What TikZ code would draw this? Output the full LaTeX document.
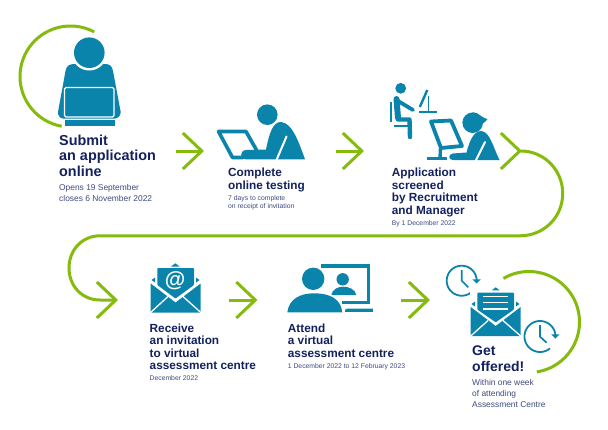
\documentclass[tikz,border=0pt]{standalone}
\usepackage{fontspec}
\setmainfont{Liberation Sans}
\usetikzlibrary{arrows.meta}
\definecolor{ublue}{HTML}{0B84AC}
\definecolor{ugreen}{HTML}{84BB0C}
\definecolor{unavy}{HTML}{14215F}
\definecolor{usub}{HTML}{3E4A80}
\tikzset{
  x=1pt,y=-1pt,
  headbig/.style={anchor=base west,inner sep=0pt,align=left,text=unavy,font=\fontsize{14.4}{15.3}\selectfont\bfseries},
  headsmall/.style={anchor=base west,inner sep=0pt,align=left,text=unavy,font=\fontsize{11.8}{12.4}\selectfont\bfseries},
  subbig/.style={anchor=base west,inner sep=0pt,align=left,text=usub,font=\fontsize{8.4}{11}\selectfont},
  subsmall/.style={anchor=base west,inner sep=0pt,align=left,text=usub,font=\fontsize{6.8}{8.7}\selectfont},
  greenline/.style={draw=ugreen,line width=3pt},
  flow/.style={greenline,-{Straight Barb[length=19pt,width=36pt,line width=3pt]}},
  bluefill/.style={fill=ublue,draw=none},
  blueline/.style={draw=ublue,fill=none},
  whiteline/.style={draw=white,fill=none},
}
\begin{document}
\begin{tikzpicture}
\useasboundingbox (0,0) rectangle (608,429);
\fill[white] (0,0) rectangle (608,429);

% green connectors
\coordinate (s1) at (176,151); \coordinate (e1) at (204,151);
\coordinate (s2) at (335.5,151); \coordinate (e2) at (364,151);
\coordinate (s3) at (520,151); \coordinate (e3) at (522,151);
\coordinate (s4) at (521,151); \coordinate (e4) at (118,300);
\coordinate (s5) at (229,300); \coordinate (e5) at (257.5,300);
\coordinate (s6) at (401,300); \coordinate (e6) at (430,300);
\draw[flow] (s1) -- (e1);
\draw[flow] (s2) -- (e2);
\draw[flow] (s3) -- (e3);
\draw[flow] (s5) -- (e5);
\draw[flow] (s6) -- (e6);
\draw[flow] (s4) .. controls (544,151) and (562.7,170) .. (562.7,193.5)
  .. controls (562.7,217) and (544,235.8) .. (520,235.8) -- (100,235.8)
  .. controls (82,235.8) and (69,250) .. (69,268)
  .. controls (69,286) and (82,300) .. (100,300) -- (e4);
\draw[greenline] plot[domain=-260:-62,samples=70] ({70.5+50.5*cos(\x)},{76.5+50.5*sin(\x)});
\draw[greenline] plot[domain=-120.4:81,samples=70] ({529+50.5*cos(\x)},{322+50.5*sin(\x)});

% step 1 icon
\fill[ublue] (58,112) -- (65.5,71) .. controls (66.5,66) and (69,64.5) .. (73,64) -- (106,64)
  .. controls (110,64.5) and (112,66) .. (113,71) -- (120.7,112)
  .. controls (121,115) and (118,118.5) .. (115,118.5) -- (63,118.5) .. controls (60,118.5) and (57.5,115) .. (58,112) -- cycle;
\fill[white] (89.3,52.7) circle[radius=17.8];
\fill[ublue] (89.3,52.7) circle[radius=15.3];
\draw[whiteline,line width=1.1pt,rounded corners=1.5pt] (64.5,87.5) rectangle (114,117);
\fill[ublue] (64.5,120) rectangle (114.5,126);

% step 2 icon
\draw[blueline,line width=3.6pt,line join=round,line cap=round] (243,157.5) -- (232.5,157.5) -- (218.5,131.5) -- (246,131.5) -- (256.5,150);
\fill[ublue] (267.3,114.7) circle[radius=10.3];
\fill[ublue] (305,159.3) .. controls (298,140) and (292,123) .. (281,122) .. controls (273,121.5) and (269,134) .. (266,149.5)
  -- (246,150) .. controls (239.5,150.5) and (239.5,159.3) .. (246,159.3) -- cycle;
\draw[whiteline,line width=2pt,line cap=round] (286.5,136.5) -- (276.5,160);

% step 3 icons
\fill[ublue] (400.7,88.3) circle[radius=5.4];
\draw[blueline,line width=6pt,line cap=round,line join=round] (396.5,99) -- (398,118);
\draw[blueline,line width=3.8pt,line cap=round,line join=round] (398,101) -- (413,110);
\draw[blueline,line width=4.4pt,line cap=round,line join=round] (398,119.5) -- (409.5,119.5) -- (410,137);
\fill[ublue] (390.3,102) rectangle (392,122);
\fill[ublue] (394,124.8) rectangle (408,126.6);
\fill[ublue] (419.3,111.4) rectangle (436.7,112.6);
\fill[ublue] (427.6,96) rectangle (429,112);
\draw[blueline,line width=2.4pt] (419.8,107) -- (427.3,90);
\draw[blueline,line width=3.8pt,line join=round] (431,121.5) -- (451,120.5) -- (462,146) -- (441,148) -- cycle;
\draw[blueline,line width=3.4pt] (440.5,148) -- (440,158.5);
\draw[blueline,line width=2.8pt] (427,158.8) -- (447,158.8);
\fill[ublue] (472.7,122.7) circle[radius=10.3];
\fill[ublue] (473,112.4) .. controls (478,112) and (483,119) .. (487.5,119) .. controls (485,123) and (481,125) .. (476,125) -- cycle;
\fill[ublue] (499.5,160) .. controls (493,147) and (490,131.5) .. (481,131) .. controls (473,131) and (469,143) .. (466.5,152.5)
  -- (453,153.5) .. controls (448,154) and (448,160) .. (453,160) -- cycle;
\draw[whiteline,line width=2pt,line cap=round] (485,142) -- (475.5,161);

% step 4 icon
\fill[ublue] (175.3,263.3) -- (179.5,266.5) -- (171,266.5) -- cycle;
\fill[ublue] (155,277.5) -- (155,282.5) -- (151.5,280) -- cycle;
\fill[ublue] (196,277.5) -- (196,282.5) -- (199.5,280) -- cycle;
\fill[ublue,rounded corners=0.8pt] (157.3,268) -- (194,268) -- (194,285) -- (175.5,298.5) -- (157.3,285) -- cycle;
\fill[ublue] (150.7,283.5) -- (175.5,302.5) -- (200.7,283.5) -- (200.7,312.5) -- (150.7,312.5) -- cycle;
\draw[whiteline,line width=1.3pt] (150.5,312.6) -- (168,296.5);
\draw[whiteline,line width=1.3pt] (200.9,312.6) -- (183,296.5);
\node[inner sep=0pt,text=white,font=\fontsize{21}{21}\selectfont\bfseries] (at1) at (175,281) {@};

% step 5 icon
\draw[blueline,line width=3.6pt] (321,265.8) -- (368.3,265.8) -- (368.3,302.5) -- (342,302.5);
\fill[ublue] (347,308.7) -- (372.8,308.7) -- (372.8,311.8) -- (345,311.8) .. controls (344.5,310.5) and (345,309) .. (347,308.7) -- cycle;
\fill[ublue] (342.7,279.3) circle[radius=6.2];
\fill[ublue] (331,295) .. controls (333,289) and (338,286.7) .. (343,286.7) .. controls (349,286.7) and (355,289) .. (356.3,295) -- cycle;
\fill[white] (313.2,278.8) circle[radius=13.2];
\path[fill=white,draw=white,line width=4pt] (287.3,312.3) .. controls (289,299) and (300,293.3) .. (314,293.3) .. controls (330,293.3) and (341,299) .. (342.3,312.3) -- cycle;
\fill[ublue] (313.2,278.8) circle[radius=11.2];
\fill[ublue] (287.3,312.3) .. controls (289,299) and (300,293.3) .. (314,293.3) .. controls (330,293.3) and (341,299) .. (342.3,312.3) -- cycle;

% step 6 icon
\draw[blueline,line width=1.8pt] plot[domain=50:358,samples=60] ({461.7+15*cos(\x)},{280.7+15*sin(\x)});
\fill[ublue] (472.4,279.3) -- (480.8,279.3) -- (476.6,283.6) -- cycle;
\draw[blueline,line width=1.7pt] (461.7,270) -- (461.7,280.7) -- (468.3,287.3);
\draw[blueline,line width=1.8pt] plot[domain=50:358,samples=60] ({540+15.5*cos(\x)},{336.5+15.5*sin(\x)});
\fill[ublue] (551.2,334.3) -- (559.6,334.3) -- (555.4,338.6) -- cycle;
\draw[blueline,line width=1.7pt] (540,325) -- (540,336.7) -- (546.7,342.7);
\fill[white] (470,286) rectangle (522,338);
\fill[ublue] (495.7,287.3) -- (499.7,290.4) -- (491.7,290.4) -- cycle;
\fill[ublue] (475,301.5) -- (475,306.5) -- (471.5,304) -- cycle;
\fill[ublue] (516,301.5) -- (516,306.5) -- (519.5,304) -- cycle;
\fill[ublue,rounded corners=0.8pt] (477.3,292.7) -- (514,292.7) -- (514,309.5) -- (495.7,322.3) -- (477.3,309.5) -- cycle;
\fill[ublue] (470.7,307) -- (495.7,326) -- (520.7,307) -- (520.7,336) -- (470.7,336) -- cycle;
\draw[whiteline,line width=1.3pt] (470.5,336.2) -- (488,320.5);
\draw[whiteline,line width=1.3pt] (520.9,336.2) -- (503,320.5);
\draw[whiteline,line width=1.3pt] (483.3,296.7) -- (508.3,296.7);
\draw[whiteline,line width=1.3pt] (483.3,302.8) -- (508.3,302.8);
\draw[whiteline,line width=1.3pt] (483.3,309) -- (508.3,309);

% texts
\node[headbig] (t1) at (59,176) {Submit\\an application\\online};
\node[subbig] (d1) at (59,201) {Opens 19 September\\closes 6 November 2022};
\node[headsmall] (t2) at (228,189) {Complete\\online testing};
\node[subsmall] (d2) at (228,208.7) {7 days to complete\\on receipt of invitation};
\node[headsmall] (t3) at (391.7,214) {Application\\screened\\by Recruitment\\and Manager};
\node[subsmall] (d3) at (391.7,225) {By 1 December 2022};
\node[headsmall] (t4) at (149.5,369.7) {Receive\\an invitation\\to virtual\\assessment centre};
\node[subsmall] (d4) at (149.5,380.7) {December 2022};
\node[headsmall] (t5) at (287.7,357.3) {Attend\\a virtual\\assessment centre};
\node[subsmall] (d5) at (287.7,368) {1 December 2022 to 12 February 2023};
\node[headbig,font=\fontsize{14}{16}\selectfont\bfseries] (t6) at (472,371) {Get\\offered!};
\node[subbig] (d6) at (472,407) {Within one week\\of attending\\Assessment Centre};
\end{tikzpicture}
\end{document}
